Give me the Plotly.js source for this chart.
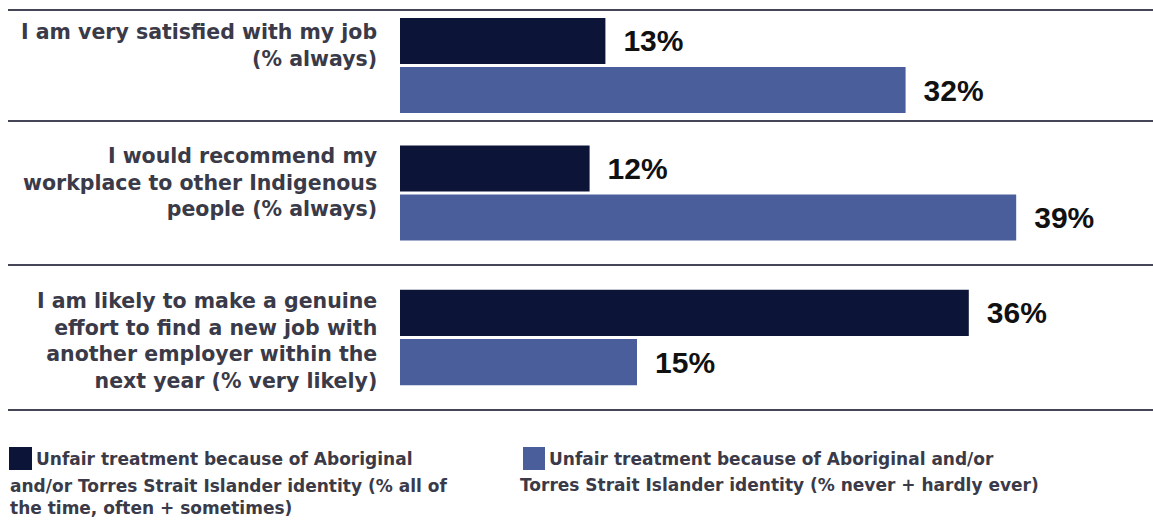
<!DOCTYPE html>
<html>
<head>
<meta charset="utf-8">
<script src="https://cdn.plot.ly/plotly-3.0.1.min.js"></script>
<style>
  html, body { margin: 0; padding: 0; background: #ffffff; }
  #chart { width: 1153px; height: 520px; }
</style>
</head>
<body>
<div id="chart"></div>
<script>
// ---- data ----
const categories = [
  'I am very satisfied with my job<br>(% always)',
  'I would recommend my<br>workplace to other Indigenous<br>people (% always)',
  'I am likely to make a genuine<br>effort to find a new job with<br>another employer within the<br>next year (% very likely)'
];
const legendLinesUnfair = [
  'Unfair treatment because of Aboriginal',
  'and/or Torres Strait Islander identity (% all of',
  'the time, often + sometimes)'
];
const legendLinesFair = [
  'Unfair treatment because of Aboriginal and/or',
  'Torres Strait Islander identity (% never + hardly ever)'
];
const unfairValues = [13, 12, 36];
const fairValues = [32, 39, 15];

// ---- styling / layout helpers ----
const W = 1153, H = 520;
const M = { l: 400, r: 3, t: 10, b: 110 };
const plotW = W - M.l - M.r, plotH = H - M.t - M.b;
const px = x => (x - M.l) / plotW;          // pixel x -> paper x
const py = y => (H - M.b - y) / plotH;       // pixel y -> paper y
const darkColor = '#0c1538';
const lightColor = '#4a5e9c';
const textColor = '#3a3a48';
const labelFont = { family: 'DejaVu Sans', size: 20.5, color: textColor, weight: 'bold' };
const legendFont = { family: 'DejaVu Sans', size: 17, color: textColor, weight: 'bold' };
const valueFont = { family: 'Liberation Sans', size: 30, color: '#111111', weight: 'bold' };

// section boundaries (pixel y) for the three question groups
const bounds = [10, 121, 265, 410];
const sectionRanges = [[0.385, -0.385], [0.5, -0.5], [0.5, -0.5]];
const labelShift = [20, 11, -3];

const axisNames = ['y', 'y2', 'y3'];
const traces = [];
categories.forEach((cat, i) => {
  traces.push({
    type: 'bar', orientation: 'h',
    name: legendLinesUnfair.join(' '),
    x: [unfairValues[i]], y: [cat],
    yaxis: axisNames[i], xaxis: 'x',
    marker: { color: darkColor },
    texttemplate: '\u2002%{x}%', textposition: 'outside',
    textfont: valueFont, constraintext: 'none', cliponaxis: false,
    showlegend: false, hoverinfo: 'skip'
  });
  traces.push({
    type: 'bar', orientation: 'h',
    name: legendLinesFair.join(' '),
    x: [fairValues[i]], y: [cat],
    yaxis: axisNames[i], xaxis: 'x',
    marker: { color: lightColor },
    texttemplate: '\u2002%{x}%', textposition: 'outside',
    textfont: valueFont, constraintext: 'none', cliponaxis: false,
    showlegend: false, hoverinfo: 'skip'
  });
});

const layout = {
  width: W, height: H,
  margin: M,
  paper_bgcolor: '#ffffff', plot_bgcolor: '#ffffff',
  barmode: 'group', bargap: 0.32, bargroupgap: 0.06,
  showlegend: false,
  xaxis: { range: [0, plotW / 15.8], visible: false, fixedrange: true },
  shapes: [], annotations: []
};

axisNames.forEach((a, i) => {
  const key = i === 0 ? 'yaxis' : 'yaxis' + (i + 1);
  layout[key] = {
    domain: [py(bounds[i + 1]), py(bounds[i])],
    anchor: 'x', type: 'category',
    range: sectionRanges[i],
    showticklabels: false, showgrid: false, zeroline: false, showline: false,
    ticks: '', fixedrange: true
  };
  layout.annotations.push({
    xref: 'paper', x: 0, xanchor: 'right', xshift: -21,
    yref: a, y: categories[i], yanchor: 'middle', yshift: labelShift[i],
    text: categories[i], align: 'right', showarrow: false, font: labelFont
  });
});

bounds.forEach(b => {
  layout.shapes.push({
    type: 'line', xref: 'paper', yref: 'paper',
    x0: px(8), x1: px(W), y0: py(b), y1: py(b),
    line: { color: '#454558', width: 2 }
  });
});

// legend swatches
layout.shapes.push({ type: 'rect', xref: 'paper', yref: 'paper',
  x0: px(9), x1: px(32), y0: py(470), y1: py(447),
  fillcolor: darkColor, line: { width: 0 } });
layout.shapes.push({ type: 'rect', xref: 'paper', yref: 'paper',
  x0: px(523), x1: px(545), y0: py(470), y1: py(447),
  fillcolor: lightColor, line: { width: 0 } });

// legend texts
layout.annotations.push({ xref: 'paper', yref: 'paper', x: px(34), y: py(459),
  xanchor: 'left', yanchor: 'middle', align: 'left', showarrow: false,
  text: legendLinesUnfair[0], font: legendFont });
layout.annotations.push({ xref: 'paper', yref: 'paper', x: px(8), y: py(497),
  xanchor: 'left', yanchor: 'middle', align: 'left', showarrow: false,
  text: legendLinesUnfair.slice(1).join('<br>'), font: legendFont });
layout.annotations.push({ xref: 'paper', yref: 'paper', x: px(547), y: py(459),
  xanchor: 'left', yanchor: 'middle', align: 'left', showarrow: false,
  text: legendLinesFair[0], font: legendFont });
layout.annotations.push({ xref: 'paper', yref: 'paper', x: px(518), y: py(485),
  xanchor: 'left', yanchor: 'middle', align: 'left', showarrow: false,
  text: legendLinesFair[1], font: legendFont });

Plotly.newPlot('chart', traces, layout, { displayModeBar: false, staticPlot: true });
</script>
</body>
</html>
